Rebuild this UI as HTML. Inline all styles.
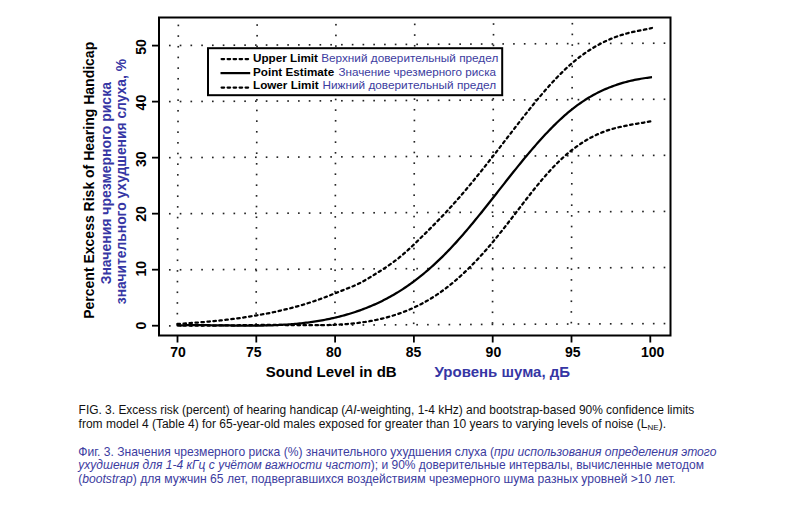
<!DOCTYPE html>
<html><head><meta charset="utf-8"><style>
html,body{margin:0;padding:0;background:#fff;}
svg{display:block;font-family:"Liberation Sans",sans-serif;}
.b{font-weight:bold;}
</style></head><body>
<svg width="787" height="512" viewBox="0 0 787 512">
<rect width="787" height="512" fill="#fff"/>
<g fill="#222"><rect x="168.98" y="325.07" width="1.65" height="1.65"/><rect x="179.73" y="325.02" width="1.65" height="1.65"/><rect x="190.48" y="324.97" width="1.65" height="1.65"/><rect x="201.24" y="324.92" width="1.65" height="1.65"/><rect x="211.99" y="324.87" width="1.65" height="1.65"/><rect x="222.75" y="324.82" width="1.65" height="1.65"/><rect x="233.50" y="324.77" width="1.65" height="1.65"/><rect x="244.25" y="324.72" width="1.65" height="1.65"/><rect x="255.01" y="324.67" width="1.65" height="1.65"/><rect x="265.76" y="324.62" width="1.65" height="1.65"/><rect x="276.52" y="324.57" width="1.65" height="1.65"/><rect x="287.27" y="324.52" width="1.65" height="1.65"/><rect x="298.02" y="324.47" width="1.65" height="1.65"/><rect x="308.78" y="324.42" width="1.65" height="1.65"/><rect x="319.53" y="324.37" width="1.65" height="1.65"/><rect x="330.29" y="324.32" width="1.65" height="1.65"/><rect x="341.04" y="324.27" width="1.65" height="1.65"/><rect x="351.79" y="324.22" width="1.65" height="1.65"/><rect x="362.55" y="324.17" width="1.65" height="1.65"/><rect x="373.30" y="324.11" width="1.65" height="1.65"/><rect x="384.06" y="324.06" width="1.65" height="1.65"/><rect x="394.81" y="324.01" width="1.65" height="1.65"/><rect x="405.56" y="323.96" width="1.65" height="1.65"/><rect x="416.32" y="323.91" width="1.65" height="1.65"/><rect x="427.07" y="323.86" width="1.65" height="1.65"/><rect x="437.82" y="323.81" width="1.65" height="1.65"/><rect x="448.58" y="323.76" width="1.65" height="1.65"/><rect x="459.33" y="323.71" width="1.65" height="1.65"/><rect x="470.09" y="323.66" width="1.65" height="1.65"/><rect x="480.84" y="323.61" width="1.65" height="1.65"/><rect x="491.60" y="323.56" width="1.65" height="1.65"/><rect x="502.35" y="323.51" width="1.65" height="1.65"/><rect x="513.10" y="323.46" width="1.65" height="1.65"/><rect x="523.86" y="323.41" width="1.65" height="1.65"/><rect x="534.61" y="323.36" width="1.65" height="1.65"/><rect x="545.37" y="323.31" width="1.65" height="1.65"/><rect x="556.12" y="323.26" width="1.65" height="1.65"/><rect x="566.87" y="323.20" width="1.65" height="1.65"/><rect x="577.63" y="323.15" width="1.65" height="1.65"/><rect x="588.38" y="323.10" width="1.65" height="1.65"/><rect x="599.13" y="323.05" width="1.65" height="1.65"/><rect x="609.89" y="323.00" width="1.65" height="1.65"/><rect x="620.64" y="322.95" width="1.65" height="1.65"/><rect x="631.40" y="322.90" width="1.65" height="1.65"/><rect x="642.15" y="322.85" width="1.65" height="1.65"/><rect x="652.90" y="322.80" width="1.65" height="1.65"/><rect x="663.66" y="322.75" width="1.65" height="1.65"/><rect x="168.98" y="269.00" width="1.65" height="1.65"/><rect x="179.73" y="268.94" width="1.65" height="1.65"/><rect x="190.48" y="268.89" width="1.65" height="1.65"/><rect x="201.24" y="268.84" width="1.65" height="1.65"/><rect x="211.99" y="268.79" width="1.65" height="1.65"/><rect x="222.75" y="268.74" width="1.65" height="1.65"/><rect x="233.50" y="268.69" width="1.65" height="1.65"/><rect x="244.25" y="268.64" width="1.65" height="1.65"/><rect x="255.01" y="268.59" width="1.65" height="1.65"/><rect x="265.76" y="268.54" width="1.65" height="1.65"/><rect x="276.52" y="268.49" width="1.65" height="1.65"/><rect x="287.27" y="268.44" width="1.65" height="1.65"/><rect x="298.02" y="268.39" width="1.65" height="1.65"/><rect x="308.78" y="268.34" width="1.65" height="1.65"/><rect x="319.53" y="268.29" width="1.65" height="1.65"/><rect x="330.29" y="268.24" width="1.65" height="1.65"/><rect x="341.04" y="268.19" width="1.65" height="1.65"/><rect x="351.79" y="268.14" width="1.65" height="1.65"/><rect x="362.55" y="268.09" width="1.65" height="1.65"/><rect x="373.30" y="268.03" width="1.65" height="1.65"/><rect x="384.06" y="267.98" width="1.65" height="1.65"/><rect x="394.81" y="267.93" width="1.65" height="1.65"/><rect x="405.56" y="267.88" width="1.65" height="1.65"/><rect x="416.32" y="267.83" width="1.65" height="1.65"/><rect x="427.07" y="267.78" width="1.65" height="1.65"/><rect x="437.82" y="267.73" width="1.65" height="1.65"/><rect x="448.58" y="267.68" width="1.65" height="1.65"/><rect x="459.33" y="267.63" width="1.65" height="1.65"/><rect x="470.09" y="267.58" width="1.65" height="1.65"/><rect x="480.84" y="267.53" width="1.65" height="1.65"/><rect x="491.60" y="267.48" width="1.65" height="1.65"/><rect x="502.35" y="267.43" width="1.65" height="1.65"/><rect x="513.10" y="267.38" width="1.65" height="1.65"/><rect x="523.86" y="267.33" width="1.65" height="1.65"/><rect x="534.61" y="267.28" width="1.65" height="1.65"/><rect x="545.37" y="267.23" width="1.65" height="1.65"/><rect x="556.12" y="267.18" width="1.65" height="1.65"/><rect x="566.87" y="267.12" width="1.65" height="1.65"/><rect x="577.63" y="267.07" width="1.65" height="1.65"/><rect x="588.38" y="267.02" width="1.65" height="1.65"/><rect x="599.13" y="266.97" width="1.65" height="1.65"/><rect x="609.89" y="266.92" width="1.65" height="1.65"/><rect x="620.64" y="266.87" width="1.65" height="1.65"/><rect x="631.40" y="266.82" width="1.65" height="1.65"/><rect x="642.15" y="266.77" width="1.65" height="1.65"/><rect x="652.90" y="266.72" width="1.65" height="1.65"/><rect x="663.66" y="266.67" width="1.65" height="1.65"/><rect x="168.98" y="212.91" width="1.65" height="1.65"/><rect x="179.73" y="212.86" width="1.65" height="1.65"/><rect x="190.48" y="212.81" width="1.65" height="1.65"/><rect x="201.24" y="212.76" width="1.65" height="1.65"/><rect x="211.99" y="212.71" width="1.65" height="1.65"/><rect x="222.75" y="212.66" width="1.65" height="1.65"/><rect x="233.50" y="212.61" width="1.65" height="1.65"/><rect x="244.25" y="212.56" width="1.65" height="1.65"/><rect x="255.01" y="212.51" width="1.65" height="1.65"/><rect x="265.76" y="212.46" width="1.65" height="1.65"/><rect x="276.52" y="212.41" width="1.65" height="1.65"/><rect x="287.27" y="212.36" width="1.65" height="1.65"/><rect x="298.02" y="212.31" width="1.65" height="1.65"/><rect x="308.78" y="212.26" width="1.65" height="1.65"/><rect x="319.53" y="212.21" width="1.65" height="1.65"/><rect x="330.29" y="212.16" width="1.65" height="1.65"/><rect x="341.04" y="212.11" width="1.65" height="1.65"/><rect x="351.79" y="212.06" width="1.65" height="1.65"/><rect x="362.55" y="212.01" width="1.65" height="1.65"/><rect x="373.30" y="211.95" width="1.65" height="1.65"/><rect x="384.06" y="211.90" width="1.65" height="1.65"/><rect x="394.81" y="211.85" width="1.65" height="1.65"/><rect x="405.56" y="211.80" width="1.65" height="1.65"/><rect x="416.32" y="211.75" width="1.65" height="1.65"/><rect x="427.07" y="211.70" width="1.65" height="1.65"/><rect x="437.82" y="211.65" width="1.65" height="1.65"/><rect x="448.58" y="211.60" width="1.65" height="1.65"/><rect x="459.33" y="211.55" width="1.65" height="1.65"/><rect x="470.09" y="211.50" width="1.65" height="1.65"/><rect x="480.84" y="211.45" width="1.65" height="1.65"/><rect x="491.60" y="211.40" width="1.65" height="1.65"/><rect x="502.35" y="211.35" width="1.65" height="1.65"/><rect x="513.10" y="211.30" width="1.65" height="1.65"/><rect x="523.86" y="211.25" width="1.65" height="1.65"/><rect x="534.61" y="211.20" width="1.65" height="1.65"/><rect x="545.37" y="211.15" width="1.65" height="1.65"/><rect x="556.12" y="211.10" width="1.65" height="1.65"/><rect x="566.87" y="211.04" width="1.65" height="1.65"/><rect x="577.63" y="210.99" width="1.65" height="1.65"/><rect x="588.38" y="210.94" width="1.65" height="1.65"/><rect x="599.13" y="210.89" width="1.65" height="1.65"/><rect x="609.89" y="210.84" width="1.65" height="1.65"/><rect x="620.64" y="210.79" width="1.65" height="1.65"/><rect x="631.40" y="210.74" width="1.65" height="1.65"/><rect x="642.15" y="210.69" width="1.65" height="1.65"/><rect x="652.90" y="210.64" width="1.65" height="1.65"/><rect x="663.66" y="210.59" width="1.65" height="1.65"/><rect x="168.98" y="156.84" width="1.65" height="1.65"/><rect x="179.73" y="156.78" width="1.65" height="1.65"/><rect x="190.48" y="156.73" width="1.65" height="1.65"/><rect x="201.24" y="156.68" width="1.65" height="1.65"/><rect x="211.99" y="156.63" width="1.65" height="1.65"/><rect x="222.75" y="156.58" width="1.65" height="1.65"/><rect x="233.50" y="156.53" width="1.65" height="1.65"/><rect x="244.25" y="156.48" width="1.65" height="1.65"/><rect x="255.01" y="156.43" width="1.65" height="1.65"/><rect x="265.76" y="156.38" width="1.65" height="1.65"/><rect x="276.52" y="156.33" width="1.65" height="1.65"/><rect x="287.27" y="156.28" width="1.65" height="1.65"/><rect x="298.02" y="156.23" width="1.65" height="1.65"/><rect x="308.78" y="156.18" width="1.65" height="1.65"/><rect x="319.53" y="156.13" width="1.65" height="1.65"/><rect x="330.29" y="156.08" width="1.65" height="1.65"/><rect x="341.04" y="156.03" width="1.65" height="1.65"/><rect x="351.79" y="155.98" width="1.65" height="1.65"/><rect x="362.55" y="155.93" width="1.65" height="1.65"/><rect x="373.30" y="155.87" width="1.65" height="1.65"/><rect x="384.06" y="155.82" width="1.65" height="1.65"/><rect x="394.81" y="155.77" width="1.65" height="1.65"/><rect x="405.56" y="155.72" width="1.65" height="1.65"/><rect x="416.32" y="155.67" width="1.65" height="1.65"/><rect x="427.07" y="155.62" width="1.65" height="1.65"/><rect x="437.82" y="155.57" width="1.65" height="1.65"/><rect x="448.58" y="155.52" width="1.65" height="1.65"/><rect x="459.33" y="155.47" width="1.65" height="1.65"/><rect x="470.09" y="155.42" width="1.65" height="1.65"/><rect x="480.84" y="155.37" width="1.65" height="1.65"/><rect x="491.60" y="155.32" width="1.65" height="1.65"/><rect x="502.35" y="155.27" width="1.65" height="1.65"/><rect x="513.10" y="155.22" width="1.65" height="1.65"/><rect x="523.86" y="155.17" width="1.65" height="1.65"/><rect x="534.61" y="155.12" width="1.65" height="1.65"/><rect x="545.37" y="155.07" width="1.65" height="1.65"/><rect x="556.12" y="155.02" width="1.65" height="1.65"/><rect x="566.87" y="154.96" width="1.65" height="1.65"/><rect x="577.63" y="154.91" width="1.65" height="1.65"/><rect x="588.38" y="154.86" width="1.65" height="1.65"/><rect x="599.13" y="154.81" width="1.65" height="1.65"/><rect x="609.89" y="154.76" width="1.65" height="1.65"/><rect x="620.64" y="154.71" width="1.65" height="1.65"/><rect x="631.40" y="154.66" width="1.65" height="1.65"/><rect x="642.15" y="154.61" width="1.65" height="1.65"/><rect x="652.90" y="154.56" width="1.65" height="1.65"/><rect x="663.66" y="154.51" width="1.65" height="1.65"/><rect x="168.98" y="100.75" width="1.65" height="1.65"/><rect x="179.73" y="100.70" width="1.65" height="1.65"/><rect x="190.48" y="100.65" width="1.65" height="1.65"/><rect x="201.24" y="100.60" width="1.65" height="1.65"/><rect x="211.99" y="100.55" width="1.65" height="1.65"/><rect x="222.75" y="100.50" width="1.65" height="1.65"/><rect x="233.50" y="100.45" width="1.65" height="1.65"/><rect x="244.25" y="100.40" width="1.65" height="1.65"/><rect x="255.01" y="100.35" width="1.65" height="1.65"/><rect x="265.76" y="100.30" width="1.65" height="1.65"/><rect x="276.52" y="100.25" width="1.65" height="1.65"/><rect x="287.27" y="100.20" width="1.65" height="1.65"/><rect x="298.02" y="100.15" width="1.65" height="1.65"/><rect x="308.78" y="100.10" width="1.65" height="1.65"/><rect x="319.53" y="100.05" width="1.65" height="1.65"/><rect x="330.29" y="100.00" width="1.65" height="1.65"/><rect x="341.04" y="99.95" width="1.65" height="1.65"/><rect x="351.79" y="99.90" width="1.65" height="1.65"/><rect x="362.55" y="99.85" width="1.65" height="1.65"/><rect x="373.30" y="99.79" width="1.65" height="1.65"/><rect x="384.06" y="99.74" width="1.65" height="1.65"/><rect x="394.81" y="99.69" width="1.65" height="1.65"/><rect x="405.56" y="99.64" width="1.65" height="1.65"/><rect x="416.32" y="99.59" width="1.65" height="1.65"/><rect x="427.07" y="99.54" width="1.65" height="1.65"/><rect x="437.82" y="99.49" width="1.65" height="1.65"/><rect x="448.58" y="99.44" width="1.65" height="1.65"/><rect x="459.33" y="99.39" width="1.65" height="1.65"/><rect x="470.09" y="99.34" width="1.65" height="1.65"/><rect x="480.84" y="99.29" width="1.65" height="1.65"/><rect x="491.60" y="99.24" width="1.65" height="1.65"/><rect x="502.35" y="99.19" width="1.65" height="1.65"/><rect x="513.10" y="99.14" width="1.65" height="1.65"/><rect x="523.86" y="99.09" width="1.65" height="1.65"/><rect x="534.61" y="99.04" width="1.65" height="1.65"/><rect x="545.37" y="98.99" width="1.65" height="1.65"/><rect x="556.12" y="98.94" width="1.65" height="1.65"/><rect x="566.87" y="98.88" width="1.65" height="1.65"/><rect x="577.63" y="98.83" width="1.65" height="1.65"/><rect x="588.38" y="98.78" width="1.65" height="1.65"/><rect x="599.13" y="98.73" width="1.65" height="1.65"/><rect x="609.89" y="98.68" width="1.65" height="1.65"/><rect x="620.64" y="98.63" width="1.65" height="1.65"/><rect x="631.40" y="98.58" width="1.65" height="1.65"/><rect x="642.15" y="98.53" width="1.65" height="1.65"/><rect x="652.90" y="98.48" width="1.65" height="1.65"/><rect x="663.66" y="98.43" width="1.65" height="1.65"/><rect x="168.98" y="44.67" width="1.65" height="1.65"/><rect x="179.73" y="44.62" width="1.65" height="1.65"/><rect x="190.48" y="44.57" width="1.65" height="1.65"/><rect x="201.24" y="44.52" width="1.65" height="1.65"/><rect x="211.99" y="44.47" width="1.65" height="1.65"/><rect x="222.75" y="44.42" width="1.65" height="1.65"/><rect x="233.50" y="44.37" width="1.65" height="1.65"/><rect x="244.25" y="44.32" width="1.65" height="1.65"/><rect x="255.01" y="44.27" width="1.65" height="1.65"/><rect x="265.76" y="44.22" width="1.65" height="1.65"/><rect x="276.52" y="44.17" width="1.65" height="1.65"/><rect x="287.27" y="44.12" width="1.65" height="1.65"/><rect x="298.02" y="44.07" width="1.65" height="1.65"/><rect x="308.78" y="44.02" width="1.65" height="1.65"/><rect x="319.53" y="43.97" width="1.65" height="1.65"/><rect x="330.29" y="43.92" width="1.65" height="1.65"/><rect x="341.04" y="43.87" width="1.65" height="1.65"/><rect x="351.79" y="43.82" width="1.65" height="1.65"/><rect x="362.55" y="43.77" width="1.65" height="1.65"/><rect x="373.30" y="43.71" width="1.65" height="1.65"/><rect x="384.06" y="43.66" width="1.65" height="1.65"/><rect x="394.81" y="43.61" width="1.65" height="1.65"/><rect x="405.56" y="43.56" width="1.65" height="1.65"/><rect x="416.32" y="43.51" width="1.65" height="1.65"/><rect x="427.07" y="43.46" width="1.65" height="1.65"/><rect x="437.82" y="43.41" width="1.65" height="1.65"/><rect x="448.58" y="43.36" width="1.65" height="1.65"/><rect x="459.33" y="43.31" width="1.65" height="1.65"/><rect x="470.09" y="43.26" width="1.65" height="1.65"/><rect x="480.84" y="43.21" width="1.65" height="1.65"/><rect x="491.60" y="43.16" width="1.65" height="1.65"/><rect x="502.35" y="43.11" width="1.65" height="1.65"/><rect x="513.10" y="43.06" width="1.65" height="1.65"/><rect x="523.86" y="43.01" width="1.65" height="1.65"/><rect x="534.61" y="42.96" width="1.65" height="1.65"/><rect x="545.37" y="42.91" width="1.65" height="1.65"/><rect x="556.12" y="42.86" width="1.65" height="1.65"/><rect x="566.87" y="42.80" width="1.65" height="1.65"/><rect x="577.63" y="42.75" width="1.65" height="1.65"/><rect x="588.38" y="42.70" width="1.65" height="1.65"/><rect x="599.13" y="42.65" width="1.65" height="1.65"/><rect x="609.89" y="42.60" width="1.65" height="1.65"/><rect x="620.64" y="42.55" width="1.65" height="1.65"/><rect x="631.40" y="42.50" width="1.65" height="1.65"/><rect x="642.15" y="42.45" width="1.65" height="1.65"/><rect x="652.90" y="42.40" width="1.65" height="1.65"/><rect x="663.66" y="42.35" width="1.65" height="1.65"/><rect x="177.52" y="24.58" width="1.65" height="1.65"/><rect x="177.48" y="35.25" width="1.65" height="1.65"/><rect x="177.44" y="45.93" width="1.65" height="1.65"/><rect x="177.40" y="56.60" width="1.65" height="1.65"/><rect x="177.37" y="67.28" width="1.65" height="1.65"/><rect x="177.33" y="77.95" width="1.65" height="1.65"/><rect x="177.29" y="88.63" width="1.65" height="1.65"/><rect x="177.26" y="99.30" width="1.65" height="1.65"/><rect x="177.22" y="109.98" width="1.65" height="1.65"/><rect x="177.18" y="120.65" width="1.65" height="1.65"/><rect x="177.14" y="131.33" width="1.65" height="1.65"/><rect x="177.11" y="142.00" width="1.65" height="1.65"/><rect x="177.07" y="152.68" width="1.65" height="1.65"/><rect x="177.03" y="163.35" width="1.65" height="1.65"/><rect x="176.99" y="174.03" width="1.65" height="1.65"/><rect x="176.96" y="184.70" width="1.65" height="1.65"/><rect x="176.92" y="195.38" width="1.65" height="1.65"/><rect x="176.88" y="206.05" width="1.65" height="1.65"/><rect x="176.84" y="216.73" width="1.65" height="1.65"/><rect x="176.81" y="227.40" width="1.65" height="1.65"/><rect x="176.77" y="238.08" width="1.65" height="1.65"/><rect x="176.73" y="248.75" width="1.65" height="1.65"/><rect x="176.69" y="259.43" width="1.65" height="1.65"/><rect x="176.66" y="270.10" width="1.65" height="1.65"/><rect x="176.62" y="280.78" width="1.65" height="1.65"/><rect x="176.58" y="291.45" width="1.65" height="1.65"/><rect x="176.55" y="302.13" width="1.65" height="1.65"/><rect x="176.51" y="312.80" width="1.65" height="1.65"/><rect x="176.47" y="323.48" width="1.65" height="1.65"/><rect x="256.32" y="24.24" width="1.65" height="1.65"/><rect x="256.28" y="34.91" width="1.65" height="1.65"/><rect x="256.24" y="45.59" width="1.65" height="1.65"/><rect x="256.21" y="56.26" width="1.65" height="1.65"/><rect x="256.17" y="66.94" width="1.65" height="1.65"/><rect x="256.13" y="77.61" width="1.65" height="1.65"/><rect x="256.09" y="88.29" width="1.65" height="1.65"/><rect x="256.06" y="98.96" width="1.65" height="1.65"/><rect x="256.02" y="109.64" width="1.65" height="1.65"/><rect x="255.98" y="120.31" width="1.65" height="1.65"/><rect x="255.94" y="130.99" width="1.65" height="1.65"/><rect x="255.91" y="141.66" width="1.65" height="1.65"/><rect x="255.87" y="152.34" width="1.65" height="1.65"/><rect x="255.83" y="163.01" width="1.65" height="1.65"/><rect x="255.79" y="173.69" width="1.65" height="1.65"/><rect x="255.76" y="184.36" width="1.65" height="1.65"/><rect x="255.72" y="195.04" width="1.65" height="1.65"/><rect x="255.68" y="205.71" width="1.65" height="1.65"/><rect x="255.65" y="216.39" width="1.65" height="1.65"/><rect x="255.61" y="227.06" width="1.65" height="1.65"/><rect x="255.57" y="237.74" width="1.65" height="1.65"/><rect x="255.53" y="248.41" width="1.65" height="1.65"/><rect x="255.50" y="259.09" width="1.65" height="1.65"/><rect x="255.46" y="269.76" width="1.65" height="1.65"/><rect x="255.42" y="280.44" width="1.65" height="1.65"/><rect x="255.38" y="291.11" width="1.65" height="1.65"/><rect x="255.35" y="301.79" width="1.65" height="1.65"/><rect x="255.31" y="312.46" width="1.65" height="1.65"/><rect x="255.27" y="323.14" width="1.65" height="1.65"/><rect x="335.12" y="23.90" width="1.65" height="1.65"/><rect x="335.08" y="34.58" width="1.65" height="1.65"/><rect x="335.04" y="45.25" width="1.65" height="1.65"/><rect x="335.01" y="55.93" width="1.65" height="1.65"/><rect x="334.97" y="66.60" width="1.65" height="1.65"/><rect x="334.93" y="77.28" width="1.65" height="1.65"/><rect x="334.89" y="87.95" width="1.65" height="1.65"/><rect x="334.86" y="98.63" width="1.65" height="1.65"/><rect x="334.82" y="109.30" width="1.65" height="1.65"/><rect x="334.78" y="119.98" width="1.65" height="1.65"/><rect x="334.75" y="130.65" width="1.65" height="1.65"/><rect x="334.71" y="141.33" width="1.65" height="1.65"/><rect x="334.67" y="152.00" width="1.65" height="1.65"/><rect x="334.63" y="162.68" width="1.65" height="1.65"/><rect x="334.60" y="173.35" width="1.65" height="1.65"/><rect x="334.56" y="184.03" width="1.65" height="1.65"/><rect x="334.52" y="194.70" width="1.65" height="1.65"/><rect x="334.48" y="205.38" width="1.65" height="1.65"/><rect x="334.45" y="216.05" width="1.65" height="1.65"/><rect x="334.41" y="226.73" width="1.65" height="1.65"/><rect x="334.37" y="237.40" width="1.65" height="1.65"/><rect x="334.33" y="248.08" width="1.65" height="1.65"/><rect x="334.30" y="258.75" width="1.65" height="1.65"/><rect x="334.26" y="269.43" width="1.65" height="1.65"/><rect x="334.22" y="280.10" width="1.65" height="1.65"/><rect x="334.18" y="290.78" width="1.65" height="1.65"/><rect x="334.15" y="301.45" width="1.65" height="1.65"/><rect x="334.11" y="312.13" width="1.65" height="1.65"/><rect x="334.07" y="322.80" width="1.65" height="1.65"/><rect x="413.92" y="23.56" width="1.65" height="1.65"/><rect x="413.88" y="34.24" width="1.65" height="1.65"/><rect x="413.85" y="44.91" width="1.65" height="1.65"/><rect x="413.81" y="55.59" width="1.65" height="1.65"/><rect x="413.77" y="66.26" width="1.65" height="1.65"/><rect x="413.73" y="76.94" width="1.65" height="1.65"/><rect x="413.70" y="87.61" width="1.65" height="1.65"/><rect x="413.66" y="98.29" width="1.65" height="1.65"/><rect x="413.62" y="108.96" width="1.65" height="1.65"/><rect x="413.58" y="119.64" width="1.65" height="1.65"/><rect x="413.55" y="130.31" width="1.65" height="1.65"/><rect x="413.51" y="140.99" width="1.65" height="1.65"/><rect x="413.47" y="151.66" width="1.65" height="1.65"/><rect x="413.43" y="162.34" width="1.65" height="1.65"/><rect x="413.40" y="173.01" width="1.65" height="1.65"/><rect x="413.36" y="183.69" width="1.65" height="1.65"/><rect x="413.32" y="194.36" width="1.65" height="1.65"/><rect x="413.28" y="205.04" width="1.65" height="1.65"/><rect x="413.25" y="215.71" width="1.65" height="1.65"/><rect x="413.21" y="226.39" width="1.65" height="1.65"/><rect x="413.17" y="237.06" width="1.65" height="1.65"/><rect x="413.14" y="247.74" width="1.65" height="1.65"/><rect x="413.10" y="258.41" width="1.65" height="1.65"/><rect x="413.06" y="269.09" width="1.65" height="1.65"/><rect x="413.02" y="279.76" width="1.65" height="1.65"/><rect x="412.99" y="290.44" width="1.65" height="1.65"/><rect x="412.95" y="301.11" width="1.65" height="1.65"/><rect x="412.91" y="311.79" width="1.65" height="1.65"/><rect x="412.87" y="322.46" width="1.65" height="1.65"/><rect x="492.72" y="23.22" width="1.65" height="1.65"/><rect x="492.68" y="33.90" width="1.65" height="1.65"/><rect x="492.65" y="44.57" width="1.65" height="1.65"/><rect x="492.61" y="55.25" width="1.65" height="1.65"/><rect x="492.57" y="65.92" width="1.65" height="1.65"/><rect x="492.53" y="76.60" width="1.65" height="1.65"/><rect x="492.50" y="87.27" width="1.65" height="1.65"/><rect x="492.46" y="97.95" width="1.65" height="1.65"/><rect x="492.42" y="108.62" width="1.65" height="1.65"/><rect x="492.39" y="119.30" width="1.65" height="1.65"/><rect x="492.35" y="129.97" width="1.65" height="1.65"/><rect x="492.31" y="140.65" width="1.65" height="1.65"/><rect x="492.27" y="151.32" width="1.65" height="1.65"/><rect x="492.24" y="162.00" width="1.65" height="1.65"/><rect x="492.20" y="172.67" width="1.65" height="1.65"/><rect x="492.16" y="183.35" width="1.65" height="1.65"/><rect x="492.12" y="194.02" width="1.65" height="1.65"/><rect x="492.09" y="204.70" width="1.65" height="1.65"/><rect x="492.05" y="215.37" width="1.65" height="1.65"/><rect x="492.01" y="226.05" width="1.65" height="1.65"/><rect x="491.97" y="236.72" width="1.65" height="1.65"/><rect x="491.94" y="247.40" width="1.65" height="1.65"/><rect x="491.90" y="258.07" width="1.65" height="1.65"/><rect x="491.86" y="268.75" width="1.65" height="1.65"/><rect x="491.82" y="279.42" width="1.65" height="1.65"/><rect x="491.79" y="290.10" width="1.65" height="1.65"/><rect x="491.75" y="300.77" width="1.65" height="1.65"/><rect x="491.71" y="311.45" width="1.65" height="1.65"/><rect x="491.68" y="322.12" width="1.65" height="1.65"/><rect x="571.52" y="22.88" width="1.65" height="1.65"/><rect x="571.49" y="33.56" width="1.65" height="1.65"/><rect x="571.45" y="44.23" width="1.65" height="1.65"/><rect x="571.41" y="54.91" width="1.65" height="1.65"/><rect x="571.37" y="65.58" width="1.65" height="1.65"/><rect x="571.34" y="76.26" width="1.65" height="1.65"/><rect x="571.30" y="86.93" width="1.65" height="1.65"/><rect x="571.26" y="97.61" width="1.65" height="1.65"/><rect x="571.22" y="108.28" width="1.65" height="1.65"/><rect x="571.19" y="118.96" width="1.65" height="1.65"/><rect x="571.15" y="129.63" width="1.65" height="1.65"/><rect x="571.11" y="140.31" width="1.65" height="1.65"/><rect x="571.07" y="150.98" width="1.65" height="1.65"/><rect x="571.04" y="161.66" width="1.65" height="1.65"/><rect x="571.00" y="172.33" width="1.65" height="1.65"/><rect x="570.96" y="183.01" width="1.65" height="1.65"/><rect x="570.92" y="193.68" width="1.65" height="1.65"/><rect x="570.89" y="204.36" width="1.65" height="1.65"/><rect x="570.85" y="215.03" width="1.65" height="1.65"/><rect x="570.81" y="225.71" width="1.65" height="1.65"/><rect x="570.78" y="236.38" width="1.65" height="1.65"/><rect x="570.74" y="247.06" width="1.65" height="1.65"/><rect x="570.70" y="257.73" width="1.65" height="1.65"/><rect x="570.66" y="268.41" width="1.65" height="1.65"/><rect x="570.63" y="279.08" width="1.65" height="1.65"/><rect x="570.59" y="289.76" width="1.65" height="1.65"/><rect x="570.55" y="300.43" width="1.65" height="1.65"/><rect x="570.51" y="311.11" width="1.65" height="1.65"/><rect x="570.48" y="321.78" width="1.65" height="1.65"/></g>
<rect x="208" y="48.2" width="294.2" height="47" fill="#fff" stroke="#000" stroke-width="2"/>
<g stroke="#000" stroke-width="2.25" fill="none">
<line x1="221.6" y1="59" x2="249.3" y2="59" stroke-dasharray="2.5 3.5" stroke-linecap="round"/>
<line x1="220.5" y1="73.1" x2="250.2" y2="73.1"/>
<line x1="221.6" y1="87.5" x2="249.3" y2="87.5" stroke-dasharray="2.5 3.5" stroke-linecap="round"/>
</g>
<g font-size="11.7" class="b">
<text x="253" y="61.7">Upper Limit</text>
<text x="253" y="75.5">Point Estimate</text>
<text x="253" y="89.3">Lower Limit</text>
</g>
<g fill="#3c3ca0">
<text x="321.2" y="61.7" font-size="11.78">Верхний доверительный предел</text>
<text x="338.5" y="75.5" font-size="11.68">Значение чрезмерного риска</text>
<text x="322.5" y="89.3" font-size="11.79">Нижний доверительный предел</text>
</g>
<g fill="none" stroke="#000" stroke-width="2.25" stroke-linejoin="round">
<path d="M177.50,323.91 L179.09,323.81 L180.67,323.72 L182.26,323.62 L183.85,323.51 L185.43,323.41 L187.02,323.30 L188.61,323.20 L190.20,323.08 L191.78,322.97 L193.37,322.86 L194.96,322.74 L196.54,322.62 L198.13,322.49 L199.72,322.37 L201.30,322.24 L202.89,322.10 L204.48,321.97 L206.07,321.83 L207.65,321.69 L209.24,321.54 L210.83,321.40 L212.41,321.24 L214.00,321.09 L215.59,320.93 L217.17,320.77 L218.76,320.60 L220.35,320.44 L221.93,320.26 L223.52,320.09 L225.11,319.90 L226.70,319.72 L228.28,319.53 L229.87,319.34 L231.46,319.14 L233.04,318.94 L234.63,318.73 L236.22,318.52 L237.80,318.31 L239.39,318.09 L240.98,317.87 L242.57,317.64 L244.15,317.41 L245.74,317.17 L247.33,316.92 L248.91,316.68 L250.50,316.42 L252.09,316.17 L253.67,315.90 L255.26,315.63 L256.85,315.36 L258.43,315.08 L260.02,314.80 L261.61,314.51 L263.20,314.21 L264.78,313.91 L266.37,313.60 L267.96,313.29 L269.54,312.97 L271.13,312.65 L272.72,312.32 L274.30,311.98 L275.89,311.64 L277.48,311.29 L279.07,310.93 L280.65,310.57 L282.24,310.20 L283.83,309.83 L285.41,309.45 L287.00,309.06 L288.59,308.66 L290.17,308.26 L291.76,307.84 L293.35,307.42 L294.93,307.00 L296.52,306.56 L298.11,306.12 L299.70,305.67 L301.28,305.21 L302.87,304.74 L304.46,304.27 L306.04,303.78 L307.63,303.29 L309.22,302.79 L310.80,302.27 L312.39,301.75 L313.98,301.22 L315.57,300.68 L317.15,300.13 L318.74,299.57 L320.33,299.01 L321.91,298.43 L323.50,297.84 L325.09,297.24 L326.67,296.63 L328.26,296.01 L329.85,295.38 L331.43,294.75 L333.02,294.11 L334.61,293.47 L336.20,292.84 L337.78,292.20 L339.37,291.58 L340.96,290.96 L342.54,290.35 L344.13,289.74 L345.72,289.13 L347.30,288.51 L348.89,287.89 L350.48,287.25 L352.07,286.60 L353.65,285.93 L355.24,285.24 L356.83,284.52 L358.41,283.77 L360.00,282.98 L361.59,282.16 L363.17,281.31 L364.76,280.42 L366.35,279.50 L367.93,278.57 L369.52,277.62 L371.11,276.65 L372.70,275.67 L374.28,274.68 L375.87,273.70 L377.46,272.70 L379.04,271.71 L380.63,270.70 L382.22,269.69 L383.80,268.66 L385.39,267.61 L386.98,266.56 L388.57,265.48 L390.15,264.38 L391.74,263.26 L393.33,262.11 L394.91,260.94 L396.50,259.73 L398.09,258.50 L399.67,257.23 L401.26,255.92 L402.85,254.59 L404.43,253.22 L406.02,251.82 L407.61,250.39 L409.20,248.94 L410.78,247.47 L412.37,245.97 L413.96,244.47 L415.54,242.94 L417.13,241.41 L418.72,239.87 L420.30,238.32 L421.89,236.76 L423.48,235.20 L425.07,233.64 L426.65,232.06 L428.24,230.48 L429.83,228.90 L431.41,227.30 L433.00,225.70 L434.59,224.09 L436.17,222.47 L437.76,220.84 L439.35,219.19 L440.93,217.54 L442.52,215.88 L444.11,214.20 L445.70,212.51 L447.28,210.81 L448.87,209.09 L450.46,207.36 L452.04,205.61 L453.63,203.85 L455.22,202.08 L456.80,200.28 L458.39,198.48 L459.98,196.65 L461.57,194.82 L463.15,192.97 L464.74,191.11 L466.33,189.23 L467.91,187.34 L469.50,185.44 L471.09,183.53 L472.67,181.61 L474.26,179.67 L475.85,177.73 L477.43,175.78 L479.02,173.81 L480.61,171.84 L482.20,169.86 L483.78,167.87 L485.37,165.87 L486.96,163.86 L488.54,161.85 L490.13,159.83 L491.72,157.81 L493.30,155.78 L494.89,153.74 L496.48,151.70 L498.07,149.65 L499.65,147.60 L501.24,145.55 L502.83,143.49 L504.41,141.43 L506.00,139.37 L507.59,137.31 L509.17,135.25 L510.76,133.19 L512.35,131.13 L513.93,129.07 L515.52,127.02 L517.11,124.97 L518.70,122.93 L520.28,120.90 L521.87,118.87 L523.46,116.85 L525.04,114.83 L526.63,112.83 L528.22,110.84 L529.80,108.86 L531.39,106.89 L532.98,104.93 L534.57,102.99 L536.15,101.06 L537.74,99.15 L539.33,97.25 L540.91,95.37 L542.50,93.51 L544.09,91.66 L545.67,89.84 L547.26,88.04 L548.85,86.25 L550.43,84.49 L552.02,82.76 L553.61,81.04 L555.20,79.35 L556.78,77.69 L558.37,76.05 L559.96,74.44 L561.54,72.86 L563.13,71.30 L564.72,69.78 L566.30,68.29 L567.89,66.82 L569.48,65.39 L571.07,63.99 L572.65,62.63 L574.24,61.30 L575.83,59.99 L577.41,58.73 L579.00,57.49 L580.59,56.28 L582.17,55.11 L583.76,53.97 L585.35,52.85 L586.93,51.77 L588.52,50.72 L590.11,49.69 L591.70,48.70 L593.28,47.73 L594.87,46.79 L596.46,45.88 L598.04,45.00 L599.63,44.14 L601.22,43.32 L602.80,42.52 L604.39,41.74 L605.98,40.99 L607.57,40.27 L609.15,39.57 L610.74,38.90 L612.33,38.26 L613.91,37.63 L615.50,37.04 L617.09,36.46 L618.67,35.91 L620.26,35.38 L621.85,34.88 L623.43,34.40 L625.02,33.94 L626.61,33.50 L628.20,33.08 L629.78,32.69 L631.37,32.31 L632.96,31.96 L634.54,31.61 L636.13,31.28 L637.72,30.96 L639.30,30.65 L640.89,30.34 L642.48,30.02 L644.07,29.71 L645.65,29.39 L647.24,29.06 L648.83,28.72 L650.41,28.36 L652.00,27.98" stroke-dasharray="2.5 3.5" stroke-linecap="round"/>
<path d="M177.50,325.39 L179.09,325.35 L180.67,325.31 L182.26,325.28 L183.85,325.25 L185.43,325.23 L187.02,325.21 L188.61,325.19 L190.20,325.18 L191.78,325.17 L193.37,325.16 L194.96,325.16 L196.54,325.16 L198.13,325.16 L199.72,325.17 L201.30,325.17 L202.89,325.18 L204.48,325.19 L206.07,325.20 L207.65,325.22 L209.24,325.23 L210.83,325.25 L212.41,325.27 L214.00,325.28 L215.59,325.30 L217.17,325.32 L218.76,325.35 L220.35,325.37 L221.93,325.39 L223.52,325.41 L225.11,325.43 L226.70,325.45 L228.28,325.47 L229.87,325.49 L231.46,325.51 L233.04,325.53 L234.63,325.55 L236.22,325.57 L237.80,325.58 L239.39,325.60 L240.98,325.61 L242.57,325.62 L244.15,325.63 L245.74,325.63 L247.33,325.64 L248.91,325.64 L250.50,325.64 L252.09,325.63 L253.67,325.63 L255.26,325.62 L256.85,325.60 L258.43,325.59 L260.02,325.57 L261.61,325.54 L263.20,325.52 L264.78,325.48 L266.37,325.45 L267.96,325.41 L269.54,325.36 L271.13,325.31 L272.72,325.26 L274.30,325.20 L275.89,325.14 L277.48,325.07 L279.07,324.99 L280.65,324.91 L282.24,324.83 L283.83,324.74 L285.41,324.64 L287.00,324.53 L288.59,324.42 L290.17,324.31 L291.76,324.18 L293.35,324.05 L294.93,323.92 L296.52,323.77 L298.11,323.62 L299.70,323.46 L301.28,323.29 L302.87,323.12 L304.46,322.93 L306.04,322.74 L307.63,322.54 L309.22,322.34 L310.80,322.12 L312.39,321.90 L313.98,321.66 L315.57,321.42 L317.15,321.17 L318.74,320.91 L320.33,320.64 L321.91,320.36 L323.50,320.06 L325.09,319.76 L326.67,319.45 L328.26,319.13 L329.85,318.80 L331.43,318.46 L333.02,318.11 L334.61,317.74 L336.20,317.37 L337.78,316.98 L339.37,316.59 L340.96,316.18 L342.54,315.76 L344.13,315.33 L345.72,314.88 L347.30,314.43 L348.89,313.96 L350.48,313.48 L352.07,312.98 L353.65,312.47 L355.24,311.95 L356.83,311.42 L358.41,310.88 L360.00,310.32 L361.59,309.74 L363.17,309.15 L364.76,308.55 L366.35,307.93 L367.93,307.30 L369.52,306.65 L371.11,305.99 L372.70,305.31 L374.28,304.62 L375.87,303.91 L377.46,303.18 L379.04,302.43 L380.63,301.67 L382.22,300.89 L383.80,300.10 L385.39,299.28 L386.98,298.45 L388.57,297.60 L390.15,296.73 L391.74,295.84 L393.33,294.93 L394.91,294.01 L396.50,293.06 L398.09,292.09 L399.67,291.11 L401.26,290.10 L402.85,289.07 L404.43,288.02 L406.02,286.95 L407.61,285.86 L409.20,284.75 L410.78,283.62 L412.37,282.47 L413.96,281.30 L415.54,280.10 L417.13,278.89 L418.72,277.65 L420.30,276.39 L421.89,275.12 L423.48,273.82 L425.07,272.50 L426.65,271.16 L428.24,269.80 L429.83,268.41 L431.41,267.01 L433.00,265.58 L434.59,264.14 L436.17,262.67 L437.76,261.18 L439.35,259.67 L440.93,258.13 L442.52,256.58 L444.11,255.01 L445.70,253.41 L447.28,251.79 L448.87,250.15 L450.46,248.49 L452.04,246.81 L453.63,245.10 L455.22,243.37 L456.80,241.63 L458.39,239.86 L459.98,238.07 L461.57,236.27 L463.15,234.45 L464.74,232.61 L466.33,230.75 L467.91,228.88 L469.50,226.99 L471.09,225.09 L472.67,223.18 L474.26,221.26 L475.85,219.32 L477.43,217.37 L479.02,215.41 L480.61,213.45 L482.20,211.47 L483.78,209.49 L485.37,207.50 L486.96,205.50 L488.54,203.50 L490.13,201.49 L491.72,199.48 L493.30,197.46 L494.89,195.45 L496.48,193.43 L498.07,191.41 L499.65,189.39 L501.24,187.37 L502.83,185.35 L504.41,183.33 L506.00,181.32 L507.59,179.31 L509.17,177.31 L510.76,175.31 L512.35,173.31 L513.93,171.32 L515.52,169.34 L517.11,167.37 L518.70,165.41 L520.28,163.46 L521.87,161.51 L523.46,159.58 L525.04,157.66 L526.63,155.76 L528.22,153.86 L529.80,151.98 L531.39,150.12 L532.98,148.27 L534.57,146.44 L536.15,144.62 L537.74,142.82 L539.33,141.04 L540.91,139.27 L542.50,137.53 L544.09,135.80 L545.67,134.10 L547.26,132.42 L548.85,130.75 L550.43,129.11 L552.02,127.50 L553.61,125.90 L555.20,124.33 L556.78,122.79 L558.37,121.27 L559.96,119.77 L561.54,118.31 L563.13,116.86 L564.72,115.45 L566.30,114.07 L567.89,112.71 L569.48,111.39 L571.07,110.09 L572.65,108.83 L574.24,107.59 L575.83,106.39 L577.41,105.22 L579.00,104.08 L580.59,102.96 L582.17,101.88 L583.76,100.83 L585.35,99.80 L586.93,98.80 L588.52,97.83 L590.11,96.89 L591.70,95.97 L593.28,95.08 L594.87,94.22 L596.46,93.38 L598.04,92.57 L599.63,91.78 L601.22,91.02 L602.80,90.28 L604.39,89.56 L605.98,88.87 L607.57,88.20 L609.15,87.55 L610.74,86.93 L612.33,86.33 L613.91,85.75 L615.50,85.19 L617.09,84.65 L618.67,84.13 L620.26,83.63 L621.85,83.15 L623.43,82.69 L625.02,82.24 L626.61,81.82 L628.20,81.41 L629.78,81.03 L631.37,80.65 L632.96,80.30 L634.54,79.96 L636.13,79.64 L637.72,79.33 L639.30,79.04 L640.89,78.76 L642.48,78.50 L644.07,78.25 L645.65,78.01 L647.24,77.79 L648.83,77.58 L650.41,77.38 L652.00,77.20"/>
<path d="M177.50,325.40 L179.09,325.43 L180.67,325.46 L182.26,325.49 L183.85,325.51 L185.43,325.53 L187.02,325.55 L188.61,325.56 L190.20,325.58 L191.78,325.59 L193.37,325.60 L194.96,325.60 L196.54,325.61 L198.13,325.61 L199.72,325.61 L201.30,325.61 L202.89,325.61 L204.48,325.60 L206.07,325.59 L207.65,325.59 L209.24,325.58 L210.83,325.57 L212.41,325.56 L214.00,325.54 L215.59,325.53 L217.17,325.51 L218.76,325.50 L220.35,325.48 L221.93,325.46 L223.52,325.44 L225.11,325.43 L226.70,325.41 L228.28,325.39 L229.87,325.37 L231.46,325.34 L233.04,325.32 L234.63,325.30 L236.22,325.28 L237.80,325.26 L239.39,325.24 L240.98,325.22 L242.57,325.20 L244.15,325.18 L245.74,325.16 L247.33,325.14 L248.91,325.12 L250.50,325.10 L252.09,325.08 L253.67,325.06 L255.26,325.05 L256.85,325.03 L258.43,325.02 L260.02,325.00 L261.61,324.99 L263.20,324.98 L264.78,324.97 L266.37,324.97 L267.96,324.96 L269.54,324.95 L271.13,324.95 L272.72,324.95 L274.30,324.95 L275.89,324.95 L277.48,324.96 L279.07,324.96 L280.65,324.97 L282.24,324.98 L283.83,324.99 L285.41,325.01 L287.00,325.02 L288.59,325.04 L290.17,325.05 L291.76,325.07 L293.35,325.09 L294.93,325.11 L296.52,325.12 L298.11,325.14 L299.70,325.16 L301.28,325.17 L302.87,325.19 L304.46,325.20 L306.04,325.21 L307.63,325.22 L309.22,325.22 L310.80,325.23 L312.39,325.23 L313.98,325.23 L315.57,325.22 L317.15,325.21 L318.74,325.20 L320.33,325.18 L321.91,325.16 L323.50,325.13 L325.09,325.10 L326.67,325.07 L328.26,325.03 L329.85,324.98 L331.43,324.93 L333.02,324.87 L334.61,324.80 L336.20,324.73 L337.78,324.65 L339.37,324.56 L340.96,324.47 L342.54,324.37 L344.13,324.26 L345.72,324.14 L347.30,324.01 L348.89,323.88 L350.48,323.74 L352.07,323.58 L353.65,323.42 L355.24,323.25 L356.83,323.07 L358.41,322.87 L360.00,322.67 L361.59,322.46 L363.17,322.23 L364.76,322.00 L366.35,321.75 L367.93,321.49 L369.52,321.22 L371.11,320.93 L372.70,320.64 L374.28,320.33 L375.87,320.01 L377.46,319.67 L379.04,319.32 L380.63,318.96 L382.22,318.58 L383.80,318.19 L385.39,317.78 L386.98,317.36 L388.57,316.92 L390.15,316.47 L391.74,316.00 L393.33,315.51 L394.91,315.01 L396.50,314.49 L398.09,313.96 L399.67,313.40 L401.26,312.83 L402.85,312.24 L404.43,311.63 L406.02,311.01 L407.61,310.36 L409.20,309.70 L410.78,309.01 L412.37,308.31 L413.96,307.58 L415.54,306.84 L417.13,306.07 L418.72,305.28 L420.30,304.48 L421.89,303.65 L423.48,302.80 L425.07,301.92 L426.65,301.03 L428.24,300.11 L429.83,299.16 L431.41,298.20 L433.00,297.21 L434.59,296.20 L436.17,295.16 L437.76,294.10 L439.35,293.01 L440.93,291.90 L442.52,290.76 L444.11,289.60 L445.70,288.41 L447.28,287.19 L448.87,285.95 L450.46,284.69 L452.04,283.40 L453.63,282.08 L455.22,280.74 L456.80,279.38 L458.39,277.99 L459.98,276.57 L461.57,275.13 L463.15,273.67 L464.74,272.18 L466.33,270.67 L467.91,269.13 L469.50,267.57 L471.09,265.99 L472.67,264.39 L474.26,262.76 L475.85,261.10 L477.43,259.43 L479.02,257.73 L480.61,256.00 L482.20,254.26 L483.78,252.49 L485.37,250.70 L486.96,248.89 L488.54,247.05 L490.13,245.20 L491.72,243.32 L493.30,241.42 L494.89,239.49 L496.48,237.55 L498.07,235.59 L499.65,233.61 L501.24,231.61 L502.83,229.61 L504.41,227.58 L506.00,225.55 L507.59,223.51 L509.17,221.46 L510.76,219.40 L512.35,217.34 L513.93,215.27 L515.52,213.20 L517.11,211.13 L518.70,209.07 L520.28,207.00 L521.87,204.94 L523.46,202.88 L525.04,200.83 L526.63,198.79 L528.22,196.75 L529.80,194.73 L531.39,192.72 L532.98,190.73 L534.57,188.75 L536.15,186.79 L537.74,184.84 L539.33,182.92 L540.91,181.02 L542.50,179.14 L544.09,177.29 L545.67,175.46 L547.26,173.66 L548.85,171.89 L550.43,170.15 L552.02,168.44 L553.61,166.77 L555.20,165.13 L556.78,163.53 L558.37,161.96 L559.96,160.43 L561.54,158.93 L563.13,157.48 L564.72,156.05 L566.30,154.66 L567.89,153.31 L569.48,151.99 L571.07,150.71 L572.65,149.46 L574.24,148.25 L575.83,147.07 L577.41,145.93 L579.00,144.82 L580.59,143.74 L582.17,142.70 L583.76,141.69 L585.35,140.71 L586.93,139.77 L588.52,138.86 L590.11,137.98 L591.70,137.14 L593.28,136.32 L594.87,135.55 L596.46,134.80 L598.04,134.08 L599.63,133.40 L601.22,132.75 L602.80,132.13 L604.39,131.53 L605.98,130.97 L607.57,130.43 L609.15,129.91 L610.74,129.42 L612.33,128.95 L613.91,128.51 L615.50,128.08 L617.09,127.67 L618.67,127.28 L620.26,126.91 L621.85,126.55 L623.43,126.21 L625.02,125.88 L626.61,125.56 L628.20,125.26 L629.78,124.96 L631.37,124.67 L632.96,124.39 L634.54,124.11 L636.13,123.84 L637.72,123.58 L639.30,123.31 L640.89,123.05 L642.48,122.79 L644.07,122.52 L645.65,122.26 L647.24,121.99 L648.83,121.71 L650.41,121.43 L652.00,121.15" stroke-dasharray="2.5 3.5" stroke-linecap="round"/>
</g>
<rect x="159" y="17.5" width="511.5" height="318" fill="none" stroke="#000" stroke-width="2"/>
<g stroke="#000" stroke-width="1.8">
<line x1="152" y1="325.70" x2="159" y2="325.70"/>
<line x1="152" y1="269.68" x2="159" y2="269.68"/>
<line x1="152" y1="213.66" x2="159" y2="213.66"/>
<line x1="152" y1="157.64" x2="159" y2="157.64"/>
<line x1="152" y1="101.62" x2="159" y2="101.62"/>
<line x1="152" y1="45.60" x2="159" y2="45.60"/>
<line x1="177.50" y1="336" x2="177.50" y2="342.5"/>
<line x1="256.30" y1="336" x2="256.30" y2="342.5"/>
<line x1="335.10" y1="336" x2="335.10" y2="342.5"/>
<line x1="413.90" y1="336" x2="413.90" y2="342.5"/>
<line x1="492.70" y1="336" x2="492.70" y2="342.5"/>
<line x1="571.50" y1="336" x2="571.50" y2="342.5"/>
<line x1="650.30" y1="336" x2="650.30" y2="342.5"/>
</g>
<g class="b" font-size="14" text-anchor="middle">
<text x="178.05" y="357.3">70</text>
<text x="253.76" y="357.3">75</text>
<text x="333.75" y="357.3">80</text>
<text x="413.45" y="357.3">85</text>
<text x="493.40" y="357.3">90</text>
<text x="572.80" y="357.3">95</text>
<text x="652.70" y="357.3">100</text>
<text transform="translate(146.2,325.50) rotate(-90)">0</text>
<text transform="translate(146.2,268.78) rotate(-90)">10</text>
<text transform="translate(146.2,214.06) rotate(-90)">20</text>
<text transform="translate(146.2,159.34) rotate(-90)">30</text>
<text transform="translate(146.2,102.62) rotate(-90)">40</text>
<text transform="translate(146.2,46.90) rotate(-90)">50</text>
</g>
<g class="b" font-size="14" text-anchor="middle">
<text transform="translate(94,180.3) rotate(-90)">Percent Excess Risk of Hearing Handicap</text>
<text transform="translate(111,183.2) rotate(-90)" fill="#3636a4">Значения чрезмерного риска</text>
<text transform="translate(126.3,181.6) rotate(-90)" fill="#3636a4" font-size="13.85">значительного ухудшения слуха, %</text>
</g>
<g class="b" font-size="15">
<text x="265.8" y="377.2">Sound Level in dB</text>
<text x="434.6" y="377.3" fill="#3636a4">Уровень шума, дБ</text>
</g>
<g fill="#111">
<text x="78.6" y="414.4" font-size="11.95">FIG. 3. Excess risk (percent) of hearing handicap (<tspan font-style="italic">AI</tspan>-weighting, 1-4 kHz) and bootstrap-based 90% confidence limits</text>
<text x="78.6" y="427.8" font-size="12">from model 4 (Table 4) for 65-year-old males exposed for greater than 10 years to varying levels of noise (L<tspan font-size="8" dy="2">NE</tspan><tspan dy="-2">).</tspan></text>
</g>
<g fill="#3c3ca0">
<text x="78.2" y="455.7" font-size="12.1">Фиг. 3. Значения чрезмерного риска (%) значительного ухудшения слуха (<tspan font-style="italic">при использования определения этого</tspan></text>
<text x="78.3" y="469.2" font-size="12"><tspan font-style="italic">ухудшения для 1-4 кГц с учётом важности частот</tspan>); и 90% доверительные интервалы, вычисленные методом</text>
<text x="78.2" y="482.8" font-size="12.13">(<tspan font-style="italic">bootstrap</tspan>) для мужчин 65 лет, подвергавшихся воздействиям чрезмерного шума разных уровней &gt;10 лет.</text>
</g>
</svg>
</body></html>
